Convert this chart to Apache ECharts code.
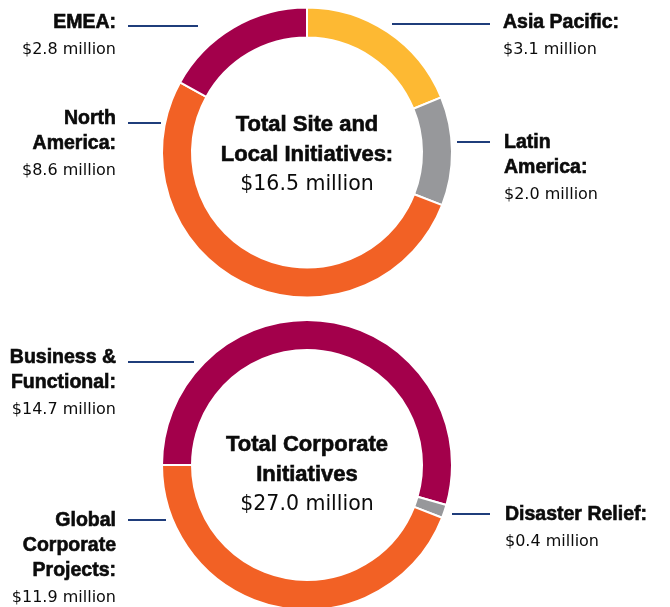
<!DOCTYPE html>
<html>
<head>
<meta charset="utf-8">
<script src="https://cdn.jsdelivr.net/npm/echarts@6/dist/echarts.min.js"></script>
<style>
  html, body { margin: 0; padding: 0; background: #fff; }
  #chart { width: 670px; height: 607px; }
</style>
</head>
<body>
<div id="chart"></div>
<script>
// site & local initiatives, clockwise from 12 o'clock
const siteNames = ['Asia Pacific', 'Latin America', 'North America', 'EMEA'];
const siteLabels = [['Asia Pacific:'], ['Latin', 'America:'], ['North', 'America:'], ['EMEA:']];
const siteValues = [3.1, 2.0, 8.6, 2.8];
const siteTitle = ['Total Site and', 'Local Initiatives:'];
const siteTotal = 16.5;

// corporate initiatives, clockwise from 9 o'clock
const corpNames = ['Business & Functional', 'Disaster Relief', 'Global Corporate Projects'];
const corpLabels = [['Business &', 'Functional:'], ['Disaster Relief:'], ['Global', 'Corporate', 'Projects:']];
const corpValues = [14.7, 0.4, 11.9];
const corpTitle = ['Total Corporate', 'Initiatives'];
const corpTotal = 27.0;

const BOLD_FONT = '"Liberation Sans", Arial, sans-serif';
const BODY_FONT = '"DejaVu Sans", sans-serif';
const INK = '#0b0b0b';
const LEADER = '#1f3d7b';

const siteColors = ['#fdb933', '#97989b', '#f26125', '#a3004b'];
const corpColors = ['#a3004b', '#97989b', '#f26125'];

const money = v => '$' + v.toFixed(1) + ' million';

// label placement: anchor x, first bold baseline, text side, leader line
const siteLayout = [
  { x: 503, y: 29, align: 'left', line: [392, 490, 24] },
  { x: 504, y: 149, align: 'left', line: [457, 490, 142] },
  { x: 116, y: 125, align: 'right', line: [128, 161, 123] },
  { x: 116, y: 29, align: 'right', line: [128, 198, 26] },
];
const corpLayout = [
  { x: 116, y: 364, align: 'right', line: [128, 194, 362] },
  { x: 505, y: 521, align: 'left', line: [452, 490, 514] },
  { x: 116, y: 527, align: 'right', line: [128, 166, 520] },
];

// baseline -> middle for canvas 'middle' baseline
const mid = (baseline, size) => baseline - size * 0.35;

const graphics = [];
function addText(text, x, baseline, size, bold, align) {
  graphics.push({
    type: 'text', silent: true,
    x: x, y: mid(baseline, size),
    style: {
      text: text, fill: INK, align: align, verticalAlign: 'middle',
      font: (bold ? 'bold ' : 'normal ') + size + 'px ' + (bold ? BOLD_FONT : BODY_FONT),
      stroke: bold ? INK : null, lineWidth: bold ? 0.6 : 0,
    },
  });
}
function addLabels(labels, values, layout) {
  labels.forEach((lines, i) => {
    const L = layout[i];
    lines.forEach((t, k) => addText(t, L.x, L.y + k * 25, 19.5, true, L.align));
    addText(money(values[i]), L.x, L.y + (lines.length - 1) * 25 + 26.5, 16, false, L.align);
    graphics.push({
      type: 'line', silent: true,
      shape: { x1: L.line[0], y1: L.line[2], x2: L.line[1], y2: L.line[2] },
      style: { stroke: LEADER, lineWidth: 2 },
    });
  });
}
addLabels(siteLabels, siteValues, siteLayout);
addLabels(corpLabels, corpValues, corpLayout);

function addTitle(lines, total, cx, baseline) {
  lines.forEach((t, k) => addText(t, cx, baseline + k * 30, 22, true, 'center'));
  addText(money(total), cx, baseline + lines.length * 29.5, 20.5, false, 'center');
}
addTitle(siteTitle, siteTotal, 307, 132.7);
addTitle(corpTitle, corpTotal, 307, 452.7);

function donut(names, values, colors, cy, startAngle) {
  return {
    type: 'pie',
    center: [307, cy],
    radius: [115, 145],
    startAngle: startAngle,
    clockwise: true,
    silent: true,
    label: { show: false },
    labelLine: { show: false },
    itemStyle: { borderColor: '#ffffff', borderWidth: 2 },
    data: names.map((n, i) => ({ name: n, value: values[i], itemStyle: { color: colors[i] } })),
  };
}

const chart = echarts.init(document.getElementById('chart'));
chart.setOption({
  animation: false,
  series: [
    donut(siteNames, siteValues, siteColors, 152.5, 90),
    donut(corpNames, corpValues, corpColors, 465, 180),
  ],
  graphic: graphics,
});
</script>
</body>
</html>
